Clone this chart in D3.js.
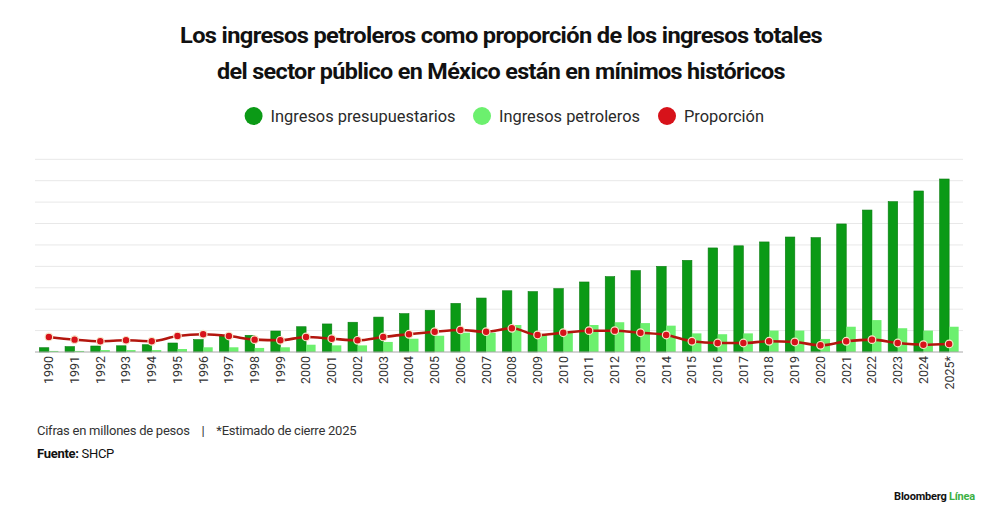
<!DOCTYPE html>
<html>
<head>
<meta charset="utf-8">
<script src="https://cdn.jsdelivr.net/npm/d3@7"></script>
<style>
   body { margin: 0; background: #fff; }
   svg { display: block; font-family: Roboto, "Open Sans", sans-serif; }
</style>
</head>
<body>
<div id="chart"></div>
<script>
// Years on the x axis
const years = [
   "1990", "1991", "1992", "1993", "1994", "1995", "1996", "1997", "1998", "1999",
   "2000", "2001", "2002", "2003", "2004", "2005", "2006", "2007", "2008", "2009",
   "2010", "2011", "2012", "2013", "2014", "2015", "2016", "2017", "2018", "2019",
   "2020", "2021", "2022", "2023", "2024", "2025*"
];

// Ingresos presupuestarios (millones de pesos)
const ingresosTotales = [
   200000, 250000, 280000, 290000, 340000, 420000, 580000, 750000, 780000, 980000,
   1180000, 1310000, 1390000, 1630000, 1790000, 1950000, 2270000, 2520000, 2860000, 2820000,
   2960000, 3270000, 3520000, 3800000, 4000000, 4280000, 4860000, 4960000, 5140000, 5370000,
   5340000, 5980000, 6630000, 7020000, 7520000, 8080000
];

// Ingresos petroleros (millones de pesos)
const ingresosPetroleros = [
   50000, 50000, 90000, 90000, 90000, 140000, 220000, 220000, 190000, 220000,
   340000, 310000, 310000, 470000, 620000, 760000, 900000, 900000, 1260000, 830000,
   900000, 1260000, 1390000, 1350000, 1230000, 870000, 830000, 870000, 1000000, 1000000,
   610000, 1180000, 1490000, 1110000, 1000000, 1180000
];

// Proporción petroleros / totales (%)
const proporcion = [
   23.4, 19.2, 16.7, 18.2, 16.7, 24.9, 27.6, 24.9, 19.2, 18.2,
   23.4, 20.7, 18.2, 23.4, 27.6, 31.6, 34.3, 31.6, 36.9, 26.5,
   30.0, 33.2, 33.2, 30.0, 26.5, 16.7, 14.0, 14.0, 16.7, 15.6,
   10.4, 16.7, 19.2, 14.0, 11.4, 12.5
];

const gridTicks = [0, 1000000, 2000000, 3000000, 4000000, 5000000, 6000000, 7000000, 8000000, 9000000];

const legendItems = [
   { label: "Ingresos presupuestarios", color: "#0b9a16" },
   { label: "Ingresos petroleros", color: "#6cf06e" },
   { label: "Proporción", color: "#d7121a" }
];

const width = 1000, height = 522;
const colTotal = "#0b9a16", colPetro = "#6cf06e", colLine = "#b3160e", colDot = "#d7121a";

const svg = d3.select("#chart").append("svg")
   .attr("width", width)
   .attr("height", height);

// Title, two lines, shrunk to the width of the original
const titleLines = [
   { text: "Los ingresos petroleros como proporción de los ingresos totales", y: 43, w: 642 },
   { text: "del sector público en México están en mínimos históricos", y: 79, w: 568 }
];
titleLines.forEach(t => {
   svg.append("text")
      .attr("x", 501)
      .attr("y", t.y)
      .attr("text-anchor", "middle")
      .attr("font-size", 22)
      .attr("font-weight", 700)
      .attr("letter-spacing", -0.6)
      .attr("fill", "#111")
      .attr("textLength", t.w)
      .attr("lengthAdjust", "spacingAndGlyphs")
      .text(t.text);
});

// Legend
const legendX = [253.6, 482, 667];
const legend = svg.append("g");
legendItems.forEach((d, i) => {
   legend.append("circle")
      .attr("cx", legendX[i])
      .attr("cy", 116)
      .attr("r", 9)
      .attr("fill", d.color);
   legend.append("text")
      .attr("x", legendX[i] + 17)
      .attr("y", 121.8)
      .attr("font-size", 16.4)
      .attr("fill", "#2a2a2a")
      .text(d.label);
});

// Scales
const x = d3.scaleBand()
   .domain(years)
   .range([36, 962])
   .paddingInner(0.26)
   .paddingOuter(0.13);

const y = d3.scaleLinear()
   .domain([0, 9000000])
   .range([352, 159.3]);

// proportion shares the plot height on its own scale
const y2 = d3.scaleLinear()
   .domain([0, 300])
   .range([352, 159.3]);

const half = x.bandwidth() / 2;

// Gridlines
svg.append("g")
   .selectAll("line")
   .data(gridTicks.slice(1))
   .join("line")
   .attr("x1", 35)
   .attr("x2", 963)
   .attr("y1", d => y(d))
   .attr("y2", d => y(d))
   .attr("stroke", "#e8e8e8")
   .attr("stroke-width", 1);

// Bars
const rows = years.map((yr, i) => ({
   year: yr,
   total: ingresosTotales[i],
   petro: ingresosPetroleros[i],
   prop: proporcion[i]
}));

svg.append("g")
   .selectAll("rect")
   .data(rows)
   .join("rect")
   .attr("x", d => x(d.year))
   .attr("y", d => y(d.total))
   .attr("width", half)
   .attr("height", d => y(0) - y(d.total))
   .attr("fill", colTotal)
   .attr("stroke", "#0a7d12")
   .attr("stroke-width", 0.6);

svg.append("g")
   .selectAll("rect")
   .data(rows)
   .join("rect")
   .attr("x", d => x(d.year) + half)
   .attr("y", d => y(d.petro))
   .attr("width", half)
   .attr("height", d => y(0) - y(d.petro))
   .attr("fill", colPetro);

// Baseline
svg.append("line")
   .attr("x1", 35)
   .attr("x2", 963)
   .attr("y1", y(0))
   .attr("y2", y(0))
   .attr("stroke", "#a8a8a8")
   .attr("stroke-width", 1);

// Proportion line
const line = d3.line()
   .x(d => x(d.year) + half)
   .y(d => y2(d.prop))
   .curve(d3.curveMonotoneX);

svg.append("path")
   .datum(rows)
   .attr("d", line)
   .attr("fill", "none")
   .attr("stroke", colLine)
   .attr("stroke-width", 2.6);

svg.append("g")
   .selectAll("circle")
   .data(rows)
   .join("circle")
   .attr("cx", d => x(d.year) + half)
   .attr("cy", d => y2(d.prop))
   .attr("r", 3.8)
   .attr("fill", colDot)
   .attr("stroke", "#f6e6c8")
   .attr("stroke-width", 1.2);

// X axis labels, rotated
const xAxis = d3.axisBottom(x).tickSize(0).tickPadding(0);
const gx = svg.append("g")
   .attr("transform", `translate(0,${y(0)})`)
   .call(xAxis);
gx.select(".domain").remove();
gx.selectAll("text")
   .attr("font-family", "Roboto, sans-serif")
   .attr("font-size", 12.5)
   .attr("fill", "#333")
   .attr("text-anchor", "end")
   .attr("dy", "0.35em")
   .attr("transform", "translate(0,4) rotate(-90)")
   .attr("x", 0)
   .attr("y", 0);

// Footer notes
svg.append("text")
   .attr("x", 37)
   .attr("y", 435)
   .attr("font-size", 13)
   .attr("fill", "#333")
   .attr("letter-spacing", -0.25)
   .attr("xml:space", "preserve")
   .text("Cifras en millones de pesos    |    *Estimado de cierre 2025");

const fuente = svg.append("text")
   .attr("x", 37)
   .attr("y", 458)
   .attr("font-size", 13)
   .attr("fill", "#111")
   .attr("letter-spacing", -0.3);
fuente.append("tspan").attr("font-weight", 700).text("Fuente:");
fuente.append("tspan").text(" SHCP");

// Logo
const logo = svg.append("text")
   .attr("x", 975)
   .attr("y", 500)
   .attr("text-anchor", "end")
   .attr("font-size", 11)
   .attr("font-weight", 700)
   .attr("letter-spacing", -0.2);
logo.append("tspan").attr("fill", "#111").text("Bloomberg ");
logo.append("tspan").attr("fill", "#3cb043").text("Línea");
</script>
</body>
</html>
